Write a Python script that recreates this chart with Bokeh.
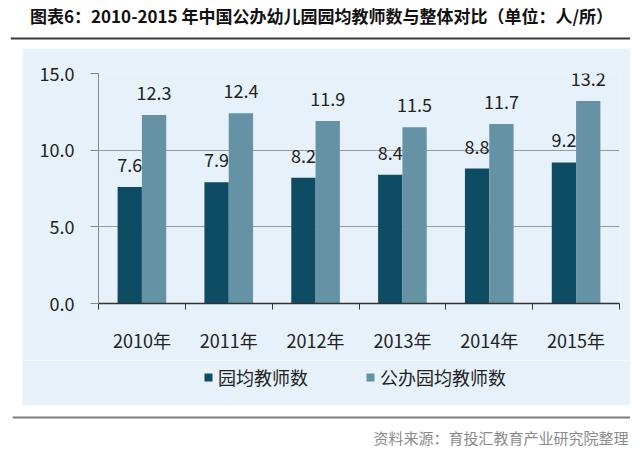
from bokeh.plotting import figure
from bokeh.models import (ColumnDataSource, Range1d, FixedTicker, Legend, LegendItem,
                          NumeralTickFormatter, Spacer, Label, Span)
from bokeh.layouts import column, row
from bokeh.transform import dodge
from bokeh.embed import file_html
from bokeh.resources import INLINE
from bokeh.core.properties import value

# ---- data ----
years = ["2010年", "2011年", "2012年", "2013年", "2014年", "2015年"]
avg_teachers = [7.6, 7.9, 8.2, 8.4, 8.8, 9.2]
public_teachers = [12.3, 12.4, 11.9, 11.5, 11.7, 13.2]
series_names = ["园均教师数", "公办园均教师数"]
y_ticks = [0, 5, 10, 15]
title_text = "图表6：2010-2015 年中国公办幼儿园园均教师数与整体对比（单位：人/所）"
source_text = "资料来源：育投汇教育产业研究院整理"

FONT = "Noto Sans CJK SC"
DARK = "#0e4c63"
LIGHT = "#6593a5"
BG = "#e6f1f9"


def blank(w, h, bg):
    f = figure(width=w, height=h, x_range=Range1d(0, w), y_range=Range1d(0, h),
               output_backend="svg", toolbar_location=None, x_axis_type=None,
               y_axis_type=None, min_border=0, outline_line_color=None,
               background_fill_color=bg, border_fill_color=bg)
    f.xgrid.visible = False
    f.ygrid.visible = False
    return f


# ---- title strip (image x 10..630, y 0..48) ----
T = blank(620, 48, "white")
T.add_layout(Label(x=311, y=33, text=title_text, text_align="center",
                   text_baseline="middle", text_font=FONT, text_font_size="17px",
                   text_font_style="bold", text_color="#111111"))
T.add_layout(Span(location=10, dimension="width", line_color="#3a3a3a", line_width=2))

# ---- main chart ----
idx = list(range(len(years)))
src = ColumnDataSource(dict(
    x=idx, a=avg_teachers, b=public_teachers,
    la=[f"{v:.1f}" for v in avg_teachers],
    lb=[f"{v:.1f}" for v in public_teachers],
))

p = figure(width=608, height=312, x_range=Range1d(-0.5, len(years) - 0.5),
           y_range=Range1d(0, 15), output_backend="svg", toolbar_location=None,
           min_border_left=76, min_border_right=11, min_border_top=25,
           min_border_bottom=57, background_fill_color=BG, border_fill_color=BG,
           outline_line_color=None)

p.vbar(x=dodge("x", -0.14, range=p.x_range), top="a", width=0.28,
       fill_color=DARK, line_color=None, source=src)
p.vbar(x=dodge("x", 0.14, range=p.x_range), top="b", width=0.28,
       fill_color=LIGHT, line_color=None, source=src)

for col, lab, off in (("a", "la", -0.14), ("b", "lb", 0.14)):
    p.text(x=dodge("x", off, range=p.x_range), y=col, text=lab, source=src,
           text_align="center", text_baseline="bottom", y_offset=-15,
           text_font=value(FONT), text_font_size="18px", text_color="#222222")

xa = p.xaxis[0]
xa.ticker = FixedTicker(ticks=idx, minor_ticks=[i - 0.5 for i in range(len(years) + 1)])
xa.major_label_overrides = {i: y for i, y in enumerate(years)}
xa.major_tick_line_color = None
xa.major_tick_out = 0
xa.major_tick_in = 0
xa.minor_tick_out = 6
xa.minor_tick_in = 0
xa.minor_tick_line_color = "#333333"
xa.axis_line_color = "#333333"
xa.axis_line_width = 1.5
xa.major_label_standoff = 17
xa.major_label_text_font = FONT
xa.major_label_text_font_size = "18px"
xa.major_label_text_color = "#222222"

ya = p.yaxis[0]
ya.ticker = FixedTicker(ticks=y_ticks)
ya.formatter = NumeralTickFormatter(format="0.0")
ya.major_tick_out = 8
ya.major_tick_in = 0
ya.minor_tick_line_color = None
ya.axis_line_color = "#8a8a8a"
ya.major_tick_line_color = "#8a8a8a"
ya.major_label_standoff = 16
ya.major_label_text_font = FONT
ya.major_label_text_font_size = "18px"
ya.major_label_text_color = "#222222"

p.xgrid.visible = False
p.ygrid.ticker = FixedTicker(ticks=y_ticks)
p.ygrid.grid_line_color = "#9a9a9a"

# ---- legend strip (image x 22..630, y 360..405) ----
L = blank(608, 45, BG)
g1 = L.vbar(x="x", top="a", width=0, fill_color=DARK, line_color=None, source=src)
g2 = L.vbar(x="x", top="b", width=0, fill_color=LIGHT, line_color=None, source=src)
legend = Legend(items=[LegendItem(label=series_names[0], renderers=[g1]),
                       LegendItem(label=series_names[1], renderers=[g2])],
                orientation="horizontal", location=(181, 15),
                background_fill_alpha=0, border_line_color=None,
                label_text_font=FONT, label_text_font_size="18px",
                label_text_color="#222222", padding=0, margin=0,
                glyph_width=10, glyph_height=10, spacing=57, label_standoff=5)
L.add_layout(legend)

# ---- source strip (image x 12..630, y 405..453) ----
S = blank(618, 48, "white")
S.add_layout(Span(location=36, dimension="width", line_color="#7a7a7a", line_width=2))
S.add_layout(Label(x=616, y=16, text=source_text, text_align="right",
                   text_baseline="middle", text_font=FONT, text_font_size="15px",
                   text_color="#8a8a8a"))

layout = column(row(Spacer(width=10, height=48), T, spacing=0),
                row(Spacer(width=22, height=312), p, spacing=0),
                row(Spacer(width=22, height=45), L, spacing=0),
                row(Spacer(width=12, height=48), S, spacing=0),
                spacing=0)

open("out.html", "w").write(file_html(layout, INLINE))
